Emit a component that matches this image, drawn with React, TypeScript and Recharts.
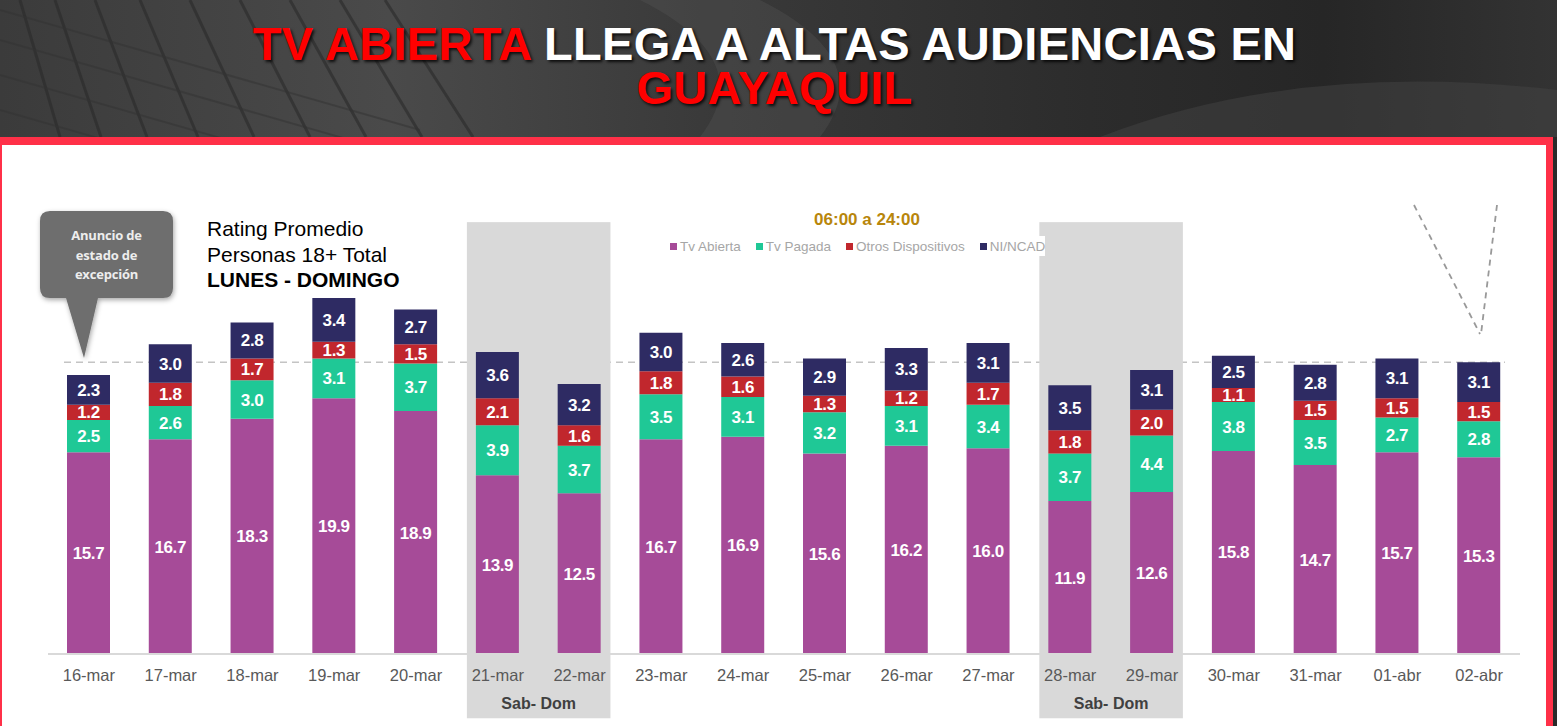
import React from 'react';
import { BarChart, Bar, XAxis, YAxis, LabelList, ReferenceLine, ReferenceArea } from 'recharts';

const days = [
  '16-mar', '17-mar', '18-mar', '19-mar', '20-mar', '21-mar', '22-mar', '23-mar', '24-mar',
  '25-mar', '26-mar', '27-mar', '28-mar', '29-mar', '30-mar', '31-mar', '01-abr', '02-abr',
];
const tvAbierta = [15.7, 16.7, 18.3, 19.9, 18.9, 13.9, 12.5, 16.7, 16.9, 15.6, 16.2, 16.0, 11.9, 12.6, 15.8, 14.7, 15.7, 15.3];
const tvPagada = [2.5, 2.6, 3.0, 3.1, 3.7, 3.9, 3.7, 3.5, 3.1, 3.2, 3.1, 3.4, 3.7, 4.4, 3.8, 3.5, 2.7, 2.8];
const otros = [1.2, 1.8, 1.7, 1.3, 1.5, 2.1, 1.6, 1.8, 1.6, 1.3, 1.2, 1.7, 1.8, 2.0, 1.1, 1.5, 1.5, 1.5];
const niNcad = [2.3, 3.0, 2.8, 3.4, 2.7, 3.6, 3.2, 3.0, 2.6, 2.9, 3.3, 3.1, 3.5, 3.1, 2.5, 2.8, 3.1, 3.1];

const seriesKeys = ['tvAbierta', 'tvPagada', 'otros', 'niNcad'];
const seriesNames = ['Tv Abierta', 'Tv Pagada', 'Otros Dispositivos', 'NI/NCAD'];
const seriesColors = ['#A64B98', '#1FC896', '#C1272D', '#2E2B63'];

const weekends = [
  ['21-mar', '22-mar'],
  ['28-mar', '29-mar'],
];
const benchmark = 22.7; // total del 02-abr

const data = days.map((day, i) => ({
  day,
  tvAbierta: tvAbierta[i],
  tvPagada: tvPagada[i],
  otros: otros[i],
  niNcad: niNcad[i],
}));

const WeekendShade = (p: any) => (
  <rect x={p.x + 10} y={p.y} width={p.width - 20} height={p.height} fill="#D9D9D9" />
);

const BenchLine = (p: any) => (
  <line
    x1={p.x1 + 16}
    y1={p.y1}
    x2={p.x2 - 15}
    y2={p.y2}
    stroke="#C4C4C4"
    strokeWidth={1.6}
    strokeDasharray="7 5"
  />
);

const fmt = (v: any) => (typeof v === 'number' ? v.toFixed(1) : v);

const titleStyle: React.CSSProperties = {
  position: 'absolute',
  left: -4,
  width: 1557,
  height: 40,
  textAlign: 'center',
  fontFamily: '"Liberation Sans", Arial, sans-serif',
  fontWeight: 'bold',
  fontSize: 47,
  lineHeight: '40px',
  whiteSpace: 'nowrap',
  textShadow: '2px 2px 3px rgba(0,0,0,0.8)',
  letterSpacing: 0.3,
};

function Header() {
  return (
    <div
      style={{
        position: 'absolute',
        left: 0,
        top: 0,
        width: 1557,
        height: 137,
        background: 'linear-gradient(90deg, #3b3b3b 0%, #4a4a4a 25%, #3a3a3a 45%, #2c2c2c 70%, #262626 85%, #333 100%)',
        overflow: 'hidden',
      }}
    >
      <svg width={1557} height={137} style={{ position: 'absolute', left: 0, top: 0 }}>
        {[20, 55, 95, 140, 190, 240, 290, 340, 385].map((x, i) => (
          <line key={i} x1={x} y1={0} x2={x + 40 + i * 6} y2={137} stroke="#2a2a2a" strokeWidth={3} opacity={0.6} />
        ))}
        {[10, 40, 75, 110].map((y, i) => (
          <line key={'h' + i} x1={0} y1={y} x2={420} y2={y + 120} stroke="#333" strokeWidth={2} opacity={0.5} />
        ))}
        <path d="M640 0 Q 760 60 700 137 L 820 137 Q 880 60 760 0 Z" fill="#555" opacity={0.35} />
        <path d="M1100 137 Q 1300 60 1557 90 L 1557 137 Z" fill="#444" opacity={0.5} />
      </svg>
      <div style={{ ...titleStyle, top: 24, color: '#ffffff' }}>
        <span style={{ color: '#FF0000' }}>TV ABIERTA</span> LLEGA A ALTAS AUDIENCIAS EN
      </div>
      <div style={{ ...titleStyle, top: 68, color: '#FF0000' }}>GUAYAQUIL</div>
    </div>
  );
}

function Callout() {
  return (
    <>
      <svg width={200} height={170} style={{ position: 'absolute', left: 30, top: 200 }}>
        <defs>
          <filter id="sh" x="-20%" y="-20%" width="140%" height="140%">
            <feDropShadow dx="1" dy="2" stdDeviation="2.5" floodColor="#000" floodOpacity="0.35" />
          </filter>
        </defs>
        <path
          d="M20 11 H133 Q143 11 143 21 V88 Q143 98 133 98 H68 L54 158 L36 98 H20 Q10 98 10 88 V21 Q10 11 20 11 Z"
          fill="#6E6E6E"
          filter="url(#sh)"
        />
      </svg>
      <div
        style={{
          position: 'absolute',
          left: 40,
          top: 226,
          width: 133,
          textAlign: 'center',
          color: '#EDEDED',
          fontFamily: '"Open Sans", sans-serif',
          fontWeight: 'bold',
          fontSize: 13,
          lineHeight: '19.5px',
          letterSpacing: -0.2,
        }}
      >
        Anuncio de
        <br />
        estado de
        <br />
        excepción
      </div>
    </>
  );
}

function LegendBlock() {
  return (
    <div
      style={{
        position: 'absolute',
        left: 662,
        top: 236,
        width: 383,
        height: 20,
        background: '#fff',
        display: 'flex',
        alignItems: 'center',
        gap: 15,
        fontFamily: '"Liberation Sans", Arial, sans-serif',
        fontSize: 13.5,
        color: '#A6A6A6',
        paddingLeft: 8,
        boxSizing: 'border-box',
        whiteSpace: 'nowrap',
      }}
    >
      {seriesNames.map((n, i) => (
        <div key={n} style={{ display: 'flex', alignItems: 'center', flexShrink: 0 }}>
          <span style={{ width: 7, height: 7, background: seriesColors[i], marginRight: 3, display: 'inline-block' }} />
          {n}
        </div>
      ))}
    </div>
  );
}

export default function App() {
  return (
    <div
      style={{
        position: 'absolute',
        left: 0,
        top: 0,
        width: 1557,
        height: 726,
        overflow: 'hidden',
        background: '#2a2a2a',
        fontFamily: '"Liberation Sans", Arial, sans-serif',
      }}
    >
      <Header />
      <div style={{ position: 'absolute', left: 0, top: 137, width: 1553, height: 589, background: '#FF3048' }} />
      <div style={{ position: 'absolute', left: 2, top: 145, width: 1544, height: 581, background: '#ffffff' }} />

      <div style={{ position: 'absolute', left: 0, top: 0 }}>
        <BarChart width={1557} height={726} data={data} margin={{ top: 217, right: 37, bottom: 42, left: 48 }}>
          {weekends.map(([a, b]) => (
            <ReferenceArea
              key={a}
              x1={a}
              x2={b}
              y1={-5}
              y2={33.6}
              ifOverflow="visible"
              shape={WeekendShade}
              label={{
                value: 'Sab- Dom',
                position: 'insideBottom',
                offset: 9,
                fill: '#404040',
                fontSize: 16,
                fontWeight: 'bold',
              }}
            />
          ))}
          <ReferenceLine y={benchmark} ifOverflow="visible" shape={BenchLine} zIndex={50} />
          <XAxis
            dataKey="day"
            interval={0}
            tickLine={false}
            axisLine={{ stroke: '#D9D9D9', strokeWidth: 2 }}
            tick={{ fill: '#595959', fontSize: 16.5 }}
            tickMargin={9}
            height={30}
          />
          <YAxis hide domain={[0, 34]} />
          {seriesKeys.map((k, i) => (
            <Bar key={k} dataKey={k} name={seriesNames[i]} stackId="a" fill={seriesColors[i]} barSize={43} isAnimationActive={false}>
              <LabelList
                dataKey={k}
                position="center"
                fill="#ffffff"
                fontSize={17}
                fontWeight="bold"
                letterSpacing={-0.4}
                formatter={fmt}
              />
            </Bar>
          ))}
        </BarChart>
      </div>

      <Callout />

      <div
        style={{
          position: 'absolute',
          left: 207,
          top: 216,
          fontSize: 21,
          lineHeight: '25.5px',
          color: '#000',
        }}
      >
        Rating Promedio
        <br />
        Personas 18+ Total
        <br />
        <b>LUNES - DOMINGO</b>
      </div>

      <div
        style={{
          position: 'absolute',
          left: 760,
          top: 210,
          width: 214,
          textAlign: 'center',
          color: '#B8860B',
          fontWeight: 'bold',
          fontSize: 17,
        }}
      >
        06:00 a 24:00
      </div>
      <LegendBlock />

      <svg width={1557} height={726} style={{ position: 'absolute', left: 0, top: 0, pointerEvents: 'none' }}>
        <line x1={1414} y1={205} x2={1480} y2={334} stroke="#999999" strokeWidth={1.8} strokeDasharray="6 5" />
        <line x1={1497} y1={205} x2={1481} y2={334} stroke="#999999" strokeWidth={1.8} strokeDasharray="6 5" />
      </svg>
    </div>
  );
}
